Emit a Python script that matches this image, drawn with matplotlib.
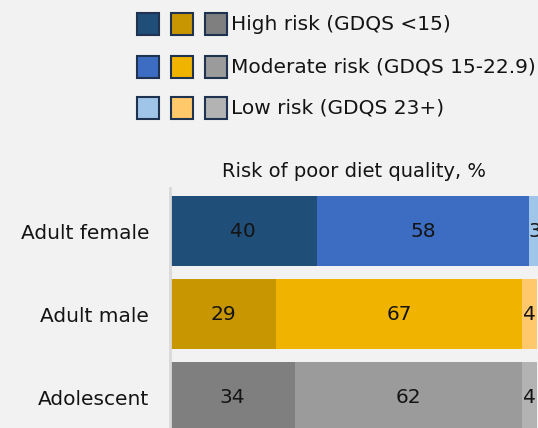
import matplotlib.pyplot as plt
from matplotlib.patches import Rectangle

plt.rcParams['font.family'] = ['DejaVu Sans']

groups = ['Adult female', 'Adult male', 'Adolescent']
high = [40, 29, 34]
moderate = [58, 67, 62]
low = [3, 4, 4]
levels = ['High risk (GDQS <15)', 'Moderate risk (GDQS 15-22.9)', 'Low risk (GDQS 23+)']

# one shade family per group: dark = high, mid = moderate, light = low
palette = {
    'Adult female': ['#1f4e79', '#3c6dc3', '#9fc5e8'],
    'Adult male': ['#c89600', '#f0b400', '#ffc96b'],
    'Adolescent': ['#7f7f7f', '#9b9b9b', '#b3b3b3'],
}

bg = '#f2f2f2'
txt = '#141414'
W, H = 538, 428
fig = plt.figure(figsize=(W / 100, H / 100), dpi=100, facecolor=bg)
ax = fig.add_axes([170 / W, 0, 368 / W, 240 / H], facecolor=bg)

ypos = list(range(len(groups)))
for i, g in enumerate(groups):
    vals = [high[i], moderate[i], low[i]]
    left = 0
    for v, c in zip(vals, palette[g]):
        ax.barh(i, v, left=left, height=0.843, color=c, linewidth=0)
        ax.text(left + v / 2, i, str(v), ha='center', va='center',
                fontsize=14.5, color=txt)
        left += v

ax.set_xlim(0, 100.4)
ax.set_ylim(2.373, -0.518)
ax.set_yticks(ypos)
ax.set_yticklabels(groups, fontsize=14.5, color=txt)
ax.tick_params(axis='y', length=0, pad=15)
ax.set_xticks([])
for s in ['top', 'right', 'bottom']:
    ax.spines[s].set_visible(False)
ax.spines['left'].set_color('#d9d9d9')
ax.spines['left'].set_linewidth(2)
ax.set_title('Risk of poor diet quality, %', fontsize=14, color=txt, pad=8)

# legend: three swatches per risk level, one for each group
sw = 22
xs = [137, 171, 205]
rows_y = [13, 56, 97]
for r, lab in enumerate(levels):
    y0 = rows_y[r]
    for k, g in enumerate(groups):
        fig.add_artist(Rectangle((xs[k] / W, 1 - (y0 + sw) / H), sw / W, sw / H,
                                 transform=fig.transFigure, facecolor=palette[g][r],
                                 edgecolor='#1f3350', linewidth=1.5))
    fig.text(231 / W, 1 - (y0 + sw / 2) / H, lab, ha='left', va='center',
             fontsize=14.5, color=txt)

fig.savefig('out.png', dpi=100, facecolor=bg)
